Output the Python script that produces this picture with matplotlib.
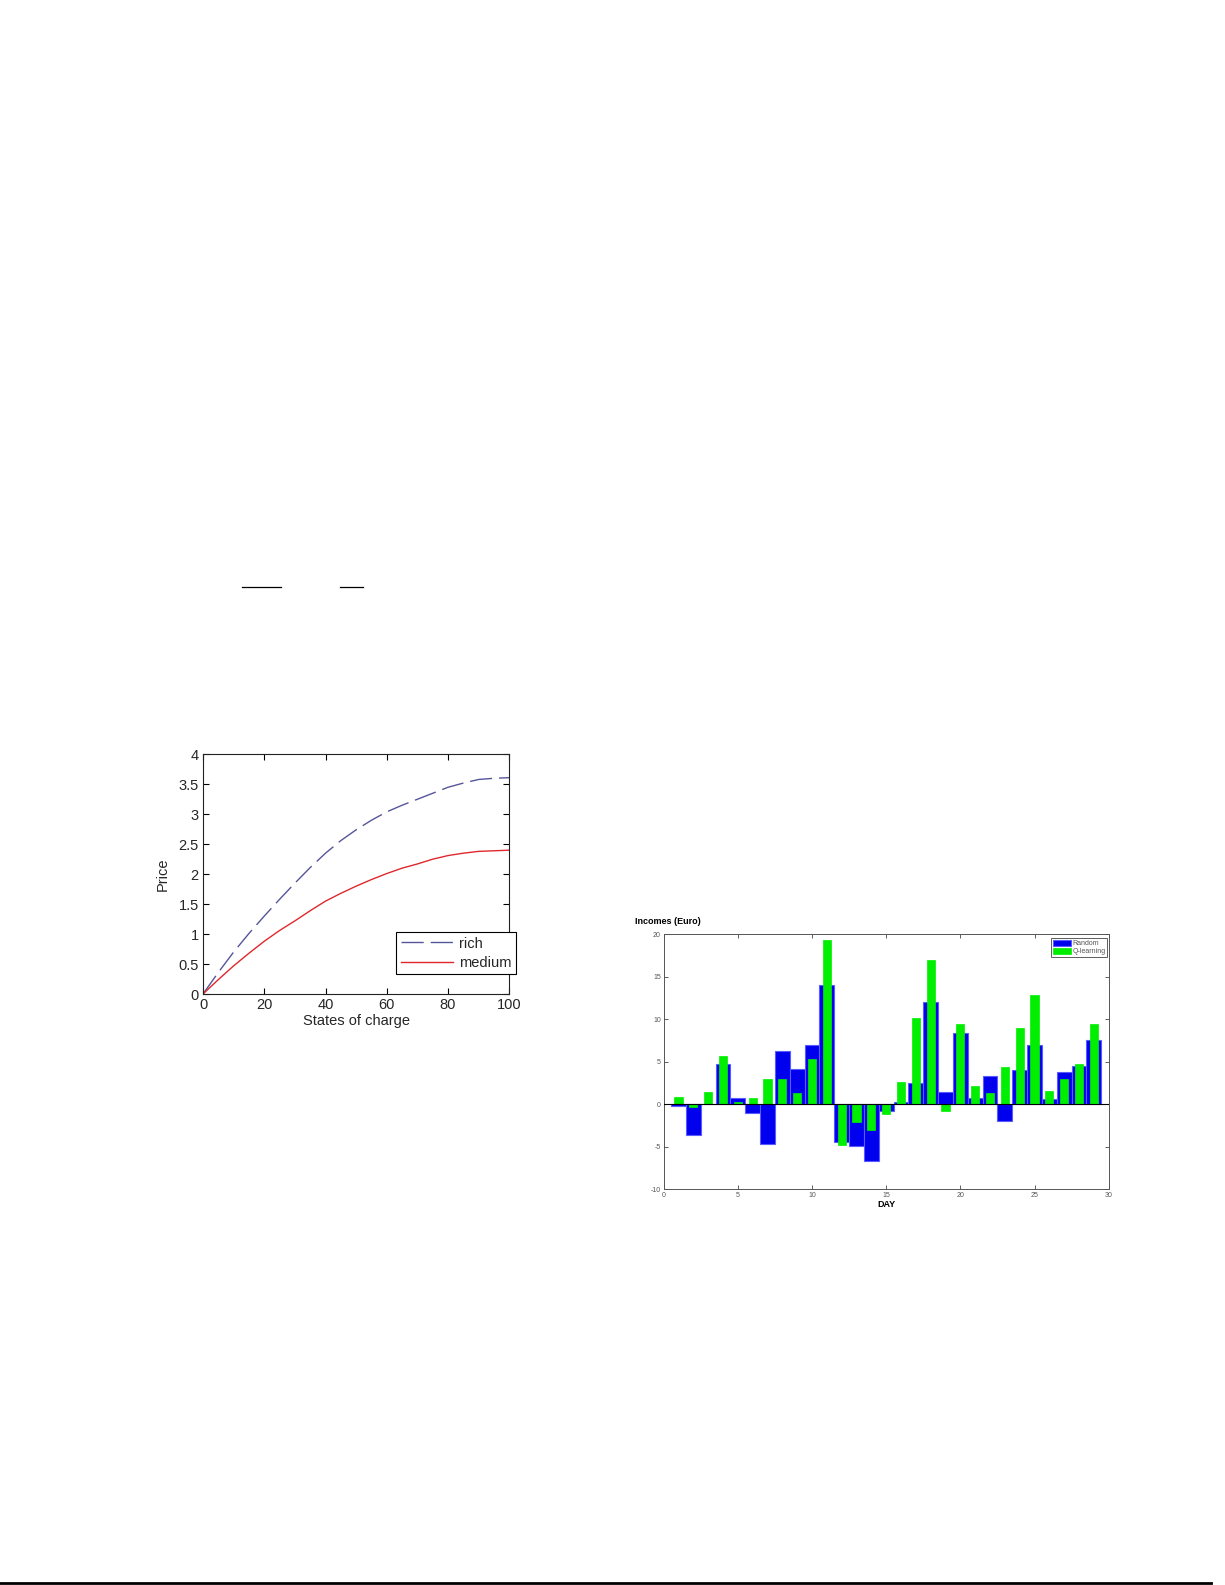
import numpy as np
import matplotlib
matplotlib.use('Agg')
import matplotlib.pyplot as plt
from matplotlib import rcParams
rcParams['font.family'] = ['Liberation Sans', 'DejaVu Sans']
rcParams['axes.unicode_minus'] = False

# left chart: price vs state of charge
soc = [0, 5, 10, 15, 20, 25, 30, 35, 40, 45, 50, 55, 60, 65, 70, 75, 80, 85, 90, 95, 100]
price_rich = [0, 0.36, 0.70, 1.01, 1.30, 1.58, 1.85, 2.11, 2.35, 2.56, 2.74, 2.90, 3.04, 3.15, 3.25, 3.35, 3.45, 3.52, 3.58, 3.60, 3.61]
price_medium = [0, 0.24, 0.47, 0.68, 0.88, 1.06, 1.22, 1.39, 1.55, 1.68, 1.80, 1.91, 2.01, 2.10, 2.17, 2.25, 2.31, 2.35, 2.38, 2.39, 2.40]

# right chart: daily incomes
days = list(range(1, 30))
income_random = [-0.2, -3.65, 0.0, 4.75, 0.7, -1.06, -4.63, 6.31, 4.16, 6.98,
                 14.0, -4.43, -4.96, -6.7, -0.78, 0.27, 2.47, 12.04, 1.41, 8.35,
                 0.71, 3.33, -1.96, 4.04, 6.98, 0.63, 3.84, 4.51, 7.53]
income_qlearning = [0.82, -0.35, 1.45, 5.73, 0.27, 0.75, 2.94, 2.98, 1.29, 5.37,
                    19.33, -4.78, -2.06, -3.0, -1.1, 2.59, 10.16, 16.98, -0.75, 9.41,
                    2.16, 1.37, 4.43, 8.94, 12.86, 1.57, 2.94, 4.75, 9.41]

fig = plt.figure(figsize=(12.25, 15.85), dpi=100)

# stray fraction bars and page rule from the source document
fig.add_artist(plt.Line2D([242/1225, 281/1225], [1-587/1585]*2, color='black', lw=0.9))
fig.add_artist(plt.Line2D([340/1225, 363/1225], [1-587/1585]*2, color='black', lw=0.9))
fig.add_artist(plt.Line2D([0, 1211/1225], [1-1583/1585]*2, color='black', lw=2))

# ---- left chart
ax1 = fig.add_axes([203/1225, 1-994/1585, 306.3/1225, 239.7/1585])
ax1.plot(soc, price_rich, color='#55559a', lw=1.0, dashes=(16, 5), label='rich')
ax1.plot(soc, price_medium, color='#e0282c', lw=1.0, label='medium')
ax1.set_xlim(0, 100)
ax1.set_ylim(0, 4)
ax1.set_xticks(range(0, 101, 20))
ax1.set_yticks(np.arange(0, 4.01, 0.5))
ax1.set_yticklabels(['0', '0.5', '1', '1.5', '2', '2.5', '3', '3.5', '4'])
ax1.tick_params(direction='in', top=True, right=True, length=4, width=0.8,
                labelsize=10.5, labelcolor='#262626', pad=3)
for s in ax1.spines.values():
    s.set_linewidth(0.8)
    s.set_color('#222222')
ax1.set_xlabel('States of charge', fontsize=10.5, color='#262626', labelpad=1)
ax1.set_ylabel('Price', fontsize=10.5, color='#262626', labelpad=6)
leg1 = ax1.legend(loc='lower right', bbox_to_anchor=(516/1225, 1-974/1585),
                  bbox_transform=fig.transFigure, borderaxespad=0, fancybox=False,
                  edgecolor='black', framealpha=1, fontsize=10.5, handlelength=3.6,
                  handletextpad=0.4, labelspacing=0.35, borderpad=0.3)
leg1.get_frame().set_linewidth(0.8)
for t in leg1.get_texts():
    t.set_color('#262626')

# ---- right chart
ax2 = fig.add_axes([663.7/1225, 1-1189.3/1585, 445/1225, 255/1585])
ax2.bar(days, income_random, width=1.0, color='#0000ee', edgecolor='#5a5aff',
        linewidth=0.8, label='Random', zorder=2)
ax2.bar(days, income_qlearning, width=0.55, color='#00ee00', edgecolor='#00ee00',
        linewidth=0.5, label='Q-learning', zorder=3)
ax2.axhline(0, color='black', lw=0.8, zorder=4)
ax2.set_xlim(0, 30)
ax2.set_ylim(-10, 20)
ax2.set_xticks(range(0, 31, 5))
ax2.set_yticks(range(-10, 21, 5))
ax2.tick_params(direction='in', top=True, right=True, length=3, width=0.6,
                labelsize=5, labelcolor='#555555', color='#444444', pad=2)
for s in ax2.spines.values():
    s.set_linewidth(0.7)
    s.set_color('#555555')
ax2.set_xlabel('DAY', fontsize=6.5, fontweight='bold', labelpad=1)
fig.text(635/1225, 1-922/1585, 'Incomes (Euro)', fontsize=6.5, fontweight='bold',
         ha='left', va='center')
leg2 = ax2.legend(loc='upper right', bbox_to_anchor=(1107/1225, 1-938/1585),
                  bbox_transform=fig.transFigure, borderaxespad=0, fancybox=False,
                  edgecolor='#444444', framealpha=1, fontsize=5, handlelength=2.6,
                  handleheight=0.9, labelspacing=0.15, borderpad=0.25, handletextpad=0.2)
leg2.get_frame().set_linewidth(0.6)
for t in leg2.get_texts():
    t.set_color('#555555')

fig.savefig('out.png', dpi=100)
